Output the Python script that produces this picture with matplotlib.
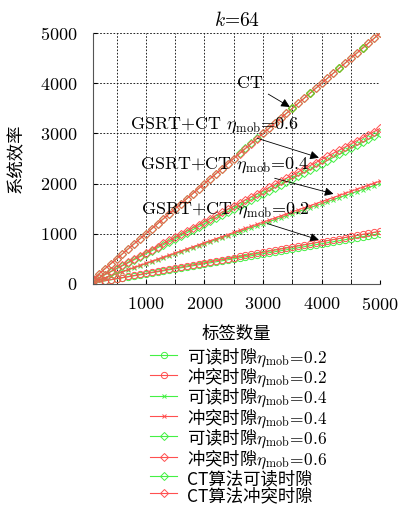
import matplotlib
matplotlib.use('Agg')
import matplotlib.pyplot as plt
from matplotlib.ticker import MultipleLocator

plt.rcParams['font.family'] = ['cmr10', 'Noto Sans CJK SC', 'DejaVu Sans']
plt.rcParams['mathtext.fontset'] = 'cm'
plt.rcParams['axes.formatter.use_mathtext'] = True

# ========== 数据 ==========
tags = list(range(100, 5001, 100))

read02 = [20, 40, 60, 80, 100, 120, 140, 160, 180, 200, 220, 240, 260, 280, 300, 320, 340, 360, 380, 400,
          420, 440, 460, 480, 500, 520, 540, 560, 580, 600, 620, 640, 660, 680, 700, 720, 740, 760, 780, 800,
          820, 840, 860, 880, 900, 920, 940, 960, 980, 1000]
col02 = [21, 42, 63, 84, 105, 126, 147, 168, 189, 210, 231, 252, 273, 294, 315, 336, 357, 378, 399, 420,
         441, 462, 483, 504, 525, 546, 567, 588, 609, 630, 651, 672, 693, 714, 735, 756, 777, 798, 819, 840,
         861, 882, 903, 924, 945, 966, 987, 1008, 1029, 1050]
read04 = [40, 80, 120, 160, 200, 240, 280, 320, 360, 400, 440, 480, 520, 560, 600, 640, 680, 720, 760, 800,
          840, 880, 920, 960, 1000, 1040, 1080, 1120, 1160, 1200, 1240, 1280, 1320, 1360, 1400, 1440, 1480,
          1520, 1560, 1600, 1640, 1680, 1720, 1760, 1800, 1840, 1880, 1920, 1960, 2000]
col04 = [41, 82, 123, 164, 205, 246, 287, 328, 369, 410, 451, 492, 533, 574, 615, 656, 697, 738, 779, 820,
         861, 902, 943, 984, 1025, 1066, 1107, 1148, 1189, 1230, 1271, 1312, 1353, 1394, 1435, 1476, 1517,
         1558, 1599, 1640, 1681, 1722, 1763, 1804, 1845, 1886, 1927, 1968, 2009, 2050]
read06 = [60, 120, 180, 240, 300, 360, 420, 480, 540, 600, 660, 720, 780, 840, 900, 960, 1020, 1080, 1140,
          1200, 1260, 1320, 1380, 1440, 1500, 1560, 1620, 1680, 1740, 1800, 1860, 1920, 1980, 2040, 2100,
          2160, 2220, 2280, 2340, 2400, 2460, 2520, 2580, 2640, 2700, 2760, 2820, 2880, 2940, 3000]
col06 = [62, 124, 186, 248, 310, 372, 434, 496, 558, 620, 682, 744, 806, 868, 930, 992, 1054, 1116, 1178,
         1240, 1302, 1364, 1426, 1488, 1550, 1612, 1674, 1736, 1798, 1860, 1922, 1984, 2046, 2108, 2170,
         2232, 2294, 2356, 2418, 2480, 2542, 2604, 2666, 2728, 2790, 2852, 2914, 2976, 3038, 3100]
ct_read = [100, 200, 300, 400, 500, 600, 700, 800, 900, 1000, 1100, 1200, 1300, 1400, 1500, 1600, 1700,
           1800, 1900, 2000, 2100, 2200, 2300, 2400, 2500, 2600, 2700, 2800, 2900, 3000, 3100, 3200, 3300,
           3400, 3500, 3600, 3700, 3800, 3900, 4000, 4100, 4200, 4300, 4400, 4500, 4600, 4700, 4800, 4900, 5000]
ct_col = [99, 199, 299, 399, 499, 599, 699, 799, 899, 999, 1099, 1199, 1299, 1399, 1499, 1599, 1699,
          1799, 1899, 1999, 2099, 2199, 2299, 2399, 2499, 2599, 2699, 2799, 2899, 2999, 3099, 3199, 3299,
          3399, 3499, 3599, 3699, 3799, 3899, 3999, 4099, 4199, 4299, 4399, 4499, 4599, 4699, 4799, 4899, 4999]

labels = ['可读时隙$\\eta_{\\mathrm{mob}}\\!=\\!0.2$', '冲突时隙$\\eta_{\\mathrm{mob}}\\!=\\!0.2$',
          '可读时隙$\\eta_{\\mathrm{mob}}\\!=\\!0.4$', '冲突时隙$\\eta_{\\mathrm{mob}}\\!=\\!0.4$',
          '可读时隙$\\eta_{\\mathrm{mob}}\\!=\\!0.6$', '冲突时隙$\\eta_{\\mathrm{mob}}\\!=\\!0.6$',
          'CT算法可读时隙', 'CT算法冲突时隙']

# ========== 绘图 ==========
green = '#44f044'
red = '#ff5050'
fig = plt.figure(figsize=(3.98, 5.18), dpi=100)
ax = fig.add_axes([0.234, 0.452, 0.721, 0.484])

kw = dict(lw=0.8, mfc='none', mew=0.7)
series = [
    (read02, green, 'o', 4.5), (col02, red, 'o', 4.5),
    (read04, green, 'x', 3), (col04, red, 'x', 3),
    (read06, green, 'D', 3.8), (col06, red, 'D', 3.8),
    (ct_read, green, 'D', 3.8), (ct_col, red, 'D', 3.8),
]
handles = []
for (ys, c, m, ms), lab in zip(series, labels):
    h, = ax.plot(tags, ys, color=c, marker=m, ms=ms, label=lab, **kw)
    handles.append(h)
# CT可读时隙个别点露在上层
ax.plot(tags, ct_read, color='#66cc22', marker='D', ms=3.8, ls='none', mfc='none', mew=0.8,
        markevery=[34, 37, 42, 46], zorder=5)

ax.set_xlim(100, 5000)
ax.set_ylim(0, 5000)
ax.xaxis.set_major_locator(MultipleLocator(1000))
ax.xaxis.set_minor_locator(MultipleLocator(500))
ax.yaxis.set_major_locator(MultipleLocator(1000))
ax.grid(True, which='both', color='k', ls=(0, (2, 2)), lw=0.6)
ax.tick_params(which='both', direction='in', labelsize=13, length=3)
ax.tick_params(axis='x', pad=9)
ax.tick_params(axis='y', pad=11)
for s in ['top', 'right']:
    ax.spines[s].set_visible(False)
for s in ['left', 'bottom']:
    ax.spines[s].set_color('#555555')

ax.set_title('$k$=64', fontsize=14, pad=5)
ax.set_xlabel('标签数量', fontsize=12.5, labelpad=9)
ax.set_ylabel('系统效率', fontsize=12.5, labelpad=12)

arrow = dict(arrowstyle='-|>', color='k', lw=0.6, mutation_scale=13)
ax.annotate('CT', xy=(3500, 3500), xytext=(2780, 4000), fontsize=13,
            ha='center', va='center', arrowprops=arrow)
ax.annotate('GSRT+CT $\\eta_{\\mathrm{mob}}$=0.6', xy=(4000, 2500), xytext=(2180, 3170), fontsize=13,
            ha='center', va='center', arrowprops=arrow)
ax.annotate('GSRT+CT $\\eta_{\\mathrm{mob}}$=0.4', xy=(4250, 1780), xytext=(2350, 2370), fontsize=13,
            ha='center', va='center', arrowprops=arrow)
ax.annotate('GSRT+CT $\\eta_{\\mathrm{mob}}$=0.2', xy=(4000, 860), xytext=(2350, 1470), fontsize=13,
            ha='center', va='center', arrowprops=arrow)

fig.legend(handles=handles, loc='upper center', bbox_to_anchor=(0.6, 0.345), frameon=False,
           prop={'family': 'Noto Sans CJK SC', 'size': 12.5}, handlelength=1.5, handleheight=1.3,
           labelspacing=-0.12, handletextpad=0.6, borderaxespad=0)

fig.savefig('out.png', dpi=100)
